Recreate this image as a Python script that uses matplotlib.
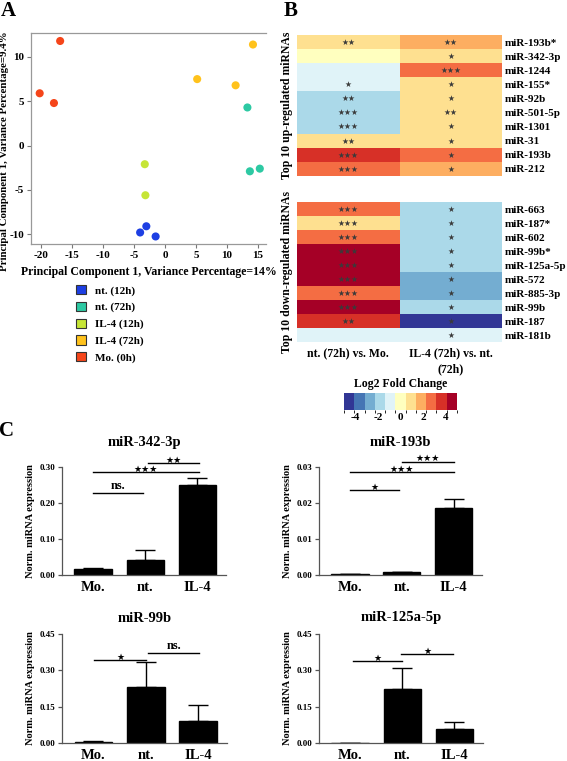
import numpy as np
import matplotlib
matplotlib.use('Agg')
import matplotlib.pyplot as plt
from matplotlib.colors import ListedColormap, BoundaryNorm
from matplotlib.patches import Patch
from matplotlib.cm import ScalarMappable

plt.rcParams['font.family'] = ['Liberation Serif', 'DejaVu Serif']
plt.rcParams['font.weight'] = 'bold'
plt.rcParams['axes.labelweight'] = 'bold'
plt.rcParams['axes.titleweight'] = 'bold'
plt.rcParams['axes.unicode_minus'] = False

# ---------------- Panel A data (PCA) ----------------
pca_groups = ['nt. (12h)', 'nt. (72h)', 'IL-4 (12h)', 'IL-4 (72h)', 'Mo. (0h)']
pca_colors = ['#1d3fe3', '#2dc9a3', '#c6e536', '#ffc21c', '#f5451a']
pc1_nt12 = [-3.0, -4.0, -1.5]
pc2_nt12 = [-9.1, -9.8, -10.25]
pc1_nt72 = [13.7, 15.3, 13.3]
pc2_nt72 = [-2.9, -2.6, 4.3]
pc1_il12 = [-3.25, -3.15]
pc2_il12 = [-2.1, -5.6]
pc1_il72 = [5.2, 11.4, 14.2]
pc2_il72 = [7.5, 6.8, 11.4]
pc1_mo = [-20.2, -17.9, -16.9]
pc2_mo = [5.9, 4.8, 11.8]

# ---------------- Panel B data (heatmaps) ----------------
up_mirnas = ['miR-193b*', 'miR-342-3p', 'miR-1244', 'miR-155*', 'miR-92b',
             'miR-501-5p', 'miR-1301', 'miR-31', 'miR-193b', 'miR-212']
up_nt_vs_mo = [1.0, 0.1, -0.9, -0.8, -1.8, -1.9, -1.7, 0.9, 3.6, 2.7]
up_il4_vs_nt = [1.9, 1.0, 2.8, 1.0, 0.9, 1.1, 0.9, 1.0, 2.6, 1.8]
up_sig_nt = ['**', '', '', '*', '**', '***', '***', '**', '***', '***']
up_sig_il4 = ['**', '*', '***', '*', '*', '**', '*', '*', '*', '*']

down_mirnas = ['miR-663', 'miR-187*', 'miR-602', 'miR-99b*', 'miR-125a-5p',
               'miR-572', 'miR-885-3p', 'miR-99b', 'miR-187', 'miR-181b']
down_nt_vs_mo = [2.7, 1.0, 2.8, 4.7, 4.6, 4.8, 2.9, 4.5, 3.7, -0.8]
down_il4_vs_nt = [-1.8, -1.9, -1.8, -1.9, -1.8, -2.6, -2.7, -1.9, -4.6, -0.9]
down_sig_nt = ['***', '***', '***', '***', '***', '***', '***', '***', '**', '']
down_sig_il4 = ['*'] * 10

comparisons = ['nt. (72h) vs. Mo.', 'IL-4 (72h) vs. nt.\n(72h)']
cbar_ticks = [-4, -2, 0, 2, 4]
hm_colors = ['#313695', '#4575b4', '#74add1', '#abd9e9', '#e0f3f8', '#ffffbf',
             '#fee090', '#fdae61', '#f46d43', '#d73027', '#a50026']

# ---------------- Panel C data (bar charts) ----------------
groups_c = ['Mo.', 'nt.', 'IL-4']
mir342_mean = [0.017, 0.042, 0.250]
mir342_err = [0.003, 0.027, 0.019]
mir342_sig = [(0.0, 0.96, 0.228, 'ns.'), (0.0, 2.03, 0.286, '***'), (1.06, 2.03, 0.311, '**')]
mir193b_mean = [0.0003, 0.0007, 0.0186]
mir193b_err = [0.0001, 0.0002, 0.0025]
mir193b_sig = [(0.0, 0.95, 0.0236, '*'), (0.0, 2.0, 0.0286, '***'), (1.0, 2.0, 0.0314, '***')]
mir99b_mean = [0.004, 0.233, 0.092]
mir99b_err = [0.003, 0.100, 0.066]
mir99b_sig = [(0.02, 1.0, 0.342, '*'), (1.04, 2.02, 0.371, 'ns.')]
mir125a_mean = [0.001, 0.225, 0.058]
mir125a_err = [0.0005, 0.083, 0.030]
mir125a_sig = [(0.05, 1.0, 0.338, '*'), (0.98, 1.98, 0.367, '*')]

W, H = 567, 761
fig = plt.figure(figsize=(W / 100, H / 100), dpi=100)


def px_axes(x0, y0, x1, y1):
    return fig.add_axes([x0 / W, 1 - y1 / H, (x1 - x0) / W, (y1 - y0) / H])


def fig_text(x, y, s, **kw):
    fig.text(x / W, 1 - y / H, s, **kw)


# ---------------- Panel A ----------------
axA = px_axes(31, 33, 266, 244)
pcs = [(pc1_nt12, pc2_nt12), (pc1_nt72, pc2_nt72), (pc1_il12, pc2_il12),
       (pc1_il72, pc2_il72), (pc1_mo, pc2_mo)]
for (xs, ys), c in zip(pcs, pca_colors):
    axA.scatter(xs, ys, s=34, color=c, edgecolors='none', zorder=3)
axA.set_xlim(-21.6, 16.3)
axA.set_ylim(-11.1, 12.7)
axA.set_xticks(range(-20, 16, 5))
axA.set_yticks([-10, -5, 0, 5, 10])
axA.tick_params(labelsize=8, length=3, color='#777777', pad=2)
for s in ['top', 'left', 'bottom']:
    axA.spines[s].set_color('#999999')
    axA.spines[s].set_linewidth(0.9)
axA.spines['right'].set_visible(False)
axA.set_xlabel('Principal Component 1, Variance Percentage=14%', fontsize=8.5, labelpad=4)
axA.set_ylabel('Principal Component 1, Variance Percentage=9.4%', fontsize=7.8)
axA.yaxis.set_label_coords(-0.092, 0.44)

handles = [Patch(facecolor=c, edgecolor='#333333', linewidth=0.8) for c in pca_colors]
fig.legend(handles, pca_groups, loc='upper left', bbox_to_anchor=(76 / W, 1 - 285 / H),
           frameon=False, fontsize=8, handlelength=0.9, handleheight=0.9,
           labelspacing=0.55, handletextpad=0.8, borderaxespad=0, borderpad=0)

# ---------------- Panel B ----------------
cmap = ListedColormap(hm_colors)
norm = BoundaryNorm(np.linspace(-5, 5, len(hm_colors) + 1), cmap.N)


def heatmap(rect, names, c1, c2, s1, s2, ylabel, bottom_labels):
    ax = px_axes(*rect)
    Z = np.column_stack([c1, c2])
    ax.pcolormesh(Z, cmap=cmap, norm=norm)
    ax.set_ylim(len(names), 0)
    ax.set_xlim(0, 2)
    for i in range(len(names)):
        for j, sig in enumerate([s1[i], s2[i]]):
            if sig:
                ax.text(j + 0.5, i + 0.52, '\u2605' * len(sig), ha='center', va='center',
                        fontsize=5.6, color='#3a3a3a', family='DejaVu Sans')
    ax.yaxis.tick_right()
    ax.set_yticks(np.arange(len(names)) + 0.5)
    ax.set_yticklabels(names, fontsize=8)
    ax.tick_params(axis='y', length=0, pad=2)
    if bottom_labels:
        ax.set_xticks([0.5, 1.5])
        ax.set_xticklabels(comparisons, fontsize=8.5, va='top', linespacing=1.45)
        ax.tick_params(axis='x', length=0, pad=4)
    else:
        ax.set_xticks([])
    for s in ax.spines.values():
        s.set_visible(False)
    ax.set_ylabel(ylabel, fontsize=8.5, labelpad=3)
    return ax


heatmap((297, 35, 502, 176), up_mirnas, up_nt_vs_mo, up_il4_vs_nt, up_sig_nt, up_sig_il4,
        'Top 10 up-regulated miRNAs', False)
heatmap((297, 202, 502, 342), down_mirnas, down_nt_vs_mo, down_il4_vs_nt, down_sig_nt,
        down_sig_il4, 'Top 10 down-regulated miRNAs', True)

cax = px_axes(344, 393, 457, 410)
cb = fig.colorbar(ScalarMappable(norm=norm, cmap=cmap), cax=cax, orientation='horizontal',
                  ticks=cbar_ticks)
cb.outline.set_visible(False)
cax.tick_params(length=0, labelsize=8, pad=2)
cax.set_title('Log2 Fold Change', fontsize=8.5, pad=4)

# ---------------- Panel C ----------------


def bar_panel(rect, title, means, errs, ylim, yticks, fmt, sigs, title_pad):
    ax = px_axes(*rect)
    x = np.arange(len(groups_c))
    ax.bar(x, means, width=0.72, color='black', edgecolor='black', zorder=2)
    ax.errorbar(x, means, yerr=[np.zeros(len(errs)), errs], fmt='none', ecolor='black',
                elinewidth=1.0, capsize=7, capthick=1.0, zorder=1)
    ax.set_xlim(-0.6, 2.55)
    ax.set_ylim(*ylim)
    ax.set_yticks(yticks)
    ax.set_yticklabels([fmt.format(v) for v in yticks], fontsize=6.5)
    ax.set_xticks(x)
    ax.set_xticklabels(groups_c, fontsize=10.5)
    ax.tick_params(axis='x', length=0, pad=4)
    ax.tick_params(axis='y', length=3, width=0.9, color='#555555', pad=2)
    for s in ['top', 'right']:
        ax.spines[s].set_visible(False)
    for s in ['left', 'bottom']:
        ax.spines[s].set_color('#555555')
        ax.spines[s].set_linewidth(0.9)
    ax.set_ylabel('Norm. miRNA expression', fontsize=7.5, labelpad=3)
    ax.set_title(title, fontsize=10.5, pad=title_pad)
    for x0, x1, y, lab in sigs:
        ax.plot([x0, x1], [y, y], color='black', lw=1.0, clip_on=False)
        if lab == 'ns.':
            ax.annotate(lab, ((x0 + x1) / 2, y), xytext=(0, 0.5), textcoords='offset points',
                        ha='center', va='bottom', fontsize=9, annotation_clip=False)
        else:
            ax.annotate('\u2605' * len(lab), ((x0 + x1) / 2, y), xytext=(0, 2.2),
                        textcoords='offset points', ha='center', va='center',
                        fontsize=6.5, family='DejaVu Sans', color='black',
                        annotation_clip=False)
    return ax


bar_panel((62, 467, 226, 575), 'miR-342-3p', mir342_mean, mir342_err, (0, 0.30),
          [0.0, 0.10, 0.20, 0.30], '{:.2f}', mir342_sig, 15)
bar_panel((319, 467, 482, 575), 'miR-193b', mir193b_mean, mir193b_err, (0, 0.03),
          [0.0, 0.01, 0.02, 0.03], '{:.2f}', mir193b_sig, 15)
bar_panel((62, 634, 227, 743), 'miR-99b', mir99b_mean, mir99b_err, (0, 0.45),
          [0.0, 0.15, 0.30, 0.45], '{:.2f}', mir99b_sig, 9)
bar_panel((319, 634, 483, 743), 'miR-125a-5p', mir125a_mean, mir125a_err, (0, 0.45),
          [0.0, 0.15, 0.30, 0.45], '{:.2f}', mir125a_sig, 9)

# panel letters
fig_text(8, 1, 'A', fontsize=15, ha='center', va='top')
fig_text(291, 1, 'B', fontsize=15, ha='center', va='top')
fig_text(7, 421, 'C', fontsize=15, ha='center', va='top')

fig.savefig('out.png', dpi=100)
